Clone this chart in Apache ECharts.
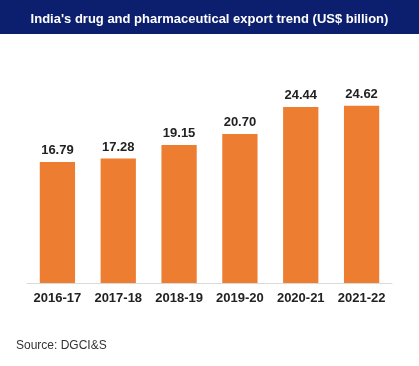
<!DOCTYPE html>
<html>
<head>
<meta charset="utf-8">
<script src="https://cdn.jsdelivr.net/npm/echarts@6/dist/echarts.min.js"></script>
<style>html,body{margin:0;padding:0;background:#fff;}#c{width:419px;height:366px;}</style>
</head>
<body>
<div id="c"></div>
<script>
var categories = ['2016-17', '2017-18', '2018-19', '2019-20', '2020-21', '2021-22'];
var exportValues = [16.79, 17.28, 19.15, 20.70, 24.44, 24.62];
var titleText = "India's drug and pharmaceutical export trend (US$ billion)";
var sourceText = 'Source: DGCI&S';

var chart = echarts.init(document.getElementById('c'), null, {renderer: 'canvas'});
chart.setOption({
  backgroundColor: '#ffffff',
  animation: false,
  graphic: [
    {type: 'rect', left: 0, top: 0, shape: {width: 419, height: 34}, style: {fill: '#0c1f6e'}, z: 0},
    {type: 'text', left: 16, top: 340, style: {text: sourceText, fill: '#333333', font: '12px "Liberation Sans", Arial, sans-serif'}}
  ],
  title: {
    text: titleText,
    left: 'center',
    top: 8,
    textStyle: {color: '#ffffff', fontSize: 13, fontWeight: 'bold', fontFamily: '"Liberation Sans", Arial, sans-serif'}
  },
  grid: {left: 27, right: 27, top: 67, height: 216},
  xAxis: {
    type: 'category',
    data: categories,
    axisLine: {lineStyle: {color: '#d9d9d9', width: 1}},
    axisTick: {show: false},
    axisLabel: {interval: 0, hideOverlap: false, color: '#222222', fontSize: 13, fontWeight: 'bold', margin: 9, fontFamily: '"Liberation Sans", Arial, sans-serif'}
  },
  yAxis: {
    type: 'value',
    min: 0,
    max: 30,
    show: false,
    splitLine: {show: false}
  },
  series: [{
    type: 'bar',
    data: exportValues,
    barCategoryGap: '42%',
    itemStyle: {color: '#ed7d31'},
    label: {
      show: true,
      position: 'top',
      distance: 5,
      formatter: function (p) { return p.value.toFixed(2); },
      color: '#222222',
      fontSize: 13,
      fontWeight: 'bold',
      fontFamily: '"Liberation Sans", Arial, sans-serif'
    }
  }]
});
</script>
</body>
</html>
